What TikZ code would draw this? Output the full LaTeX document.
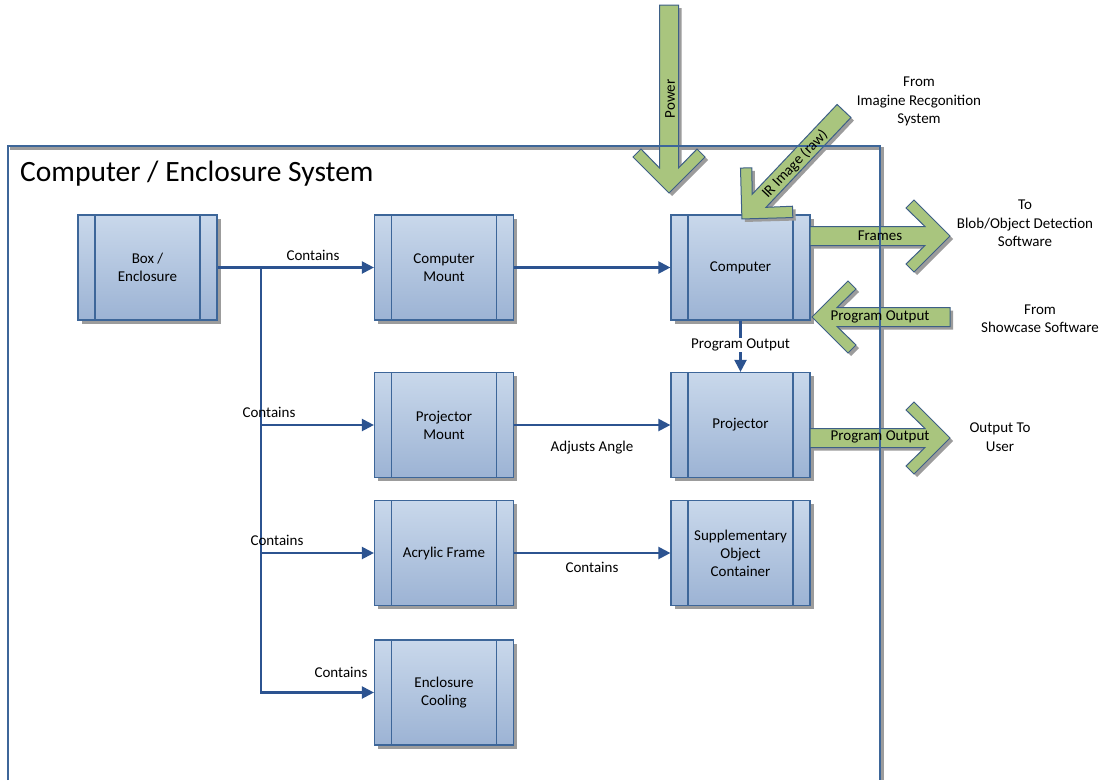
\documentclass[tikz,border=0pt]{standalone}
\usepackage{fontspec}
\setmainfont{Carlito}
\usetikzlibrary{arrows.meta}

\definecolor{boxtop}{HTML}{C9D8EB}
\definecolor{boxbot}{HTML}{9CB3D4}
\definecolor{boxline}{HTML}{3D6699}
\definecolor{connblue}{HTML}{2C5390}
\definecolor{shadowgray}{HTML}{9C9C9C}
\definecolor{arrowgreen}{HTML}{A9C57E}
\definecolor{arrowline}{HTML}{3D5F86}

% outline of a thick block arrow with a chevron head, tail at origin, pointing along +x
\newcommand\arrowoutline[1]{(0,9.5) -- (#1-25,9.5) -- (#1-44,28) -- (#1-36,36) -- (#1,0)
  -- (#1-36,-36) -- (#1-44,-28) -- (#1-25,-9.5) -- (0,-9.5) -- cycle}
% #1,#2 tail position, #3 direction angle, #4 length
\newcommand\flowarrow[4]{%
  \fill[shadowgray, shift={(#1+3,#2+3)}, rotate=#3] \arrowoutline{#4};
  \filldraw[fill=arrowgreen, draw=arrowline, line width=1pt, line join=miter,
    shift={(#1,#2)}, rotate=#3] \arrowoutline{#4};}

\tikzset{
  procbox/.style={rectangle, minimum width=139pt, minimum height=105pt,
    draw=boxline, line width=1.2pt, top color=boxtop, bottom color=boxbot,
    align=center, inner sep=0pt, font=\fontsize{15}{18}\selectfont,
    preaction={fill=shadowgray, transform canvas={shift={(3.5pt,-3.5pt)}}},
    path picture={
      \draw[boxline, line width=1.2pt]
        ([xshift=17pt]path picture bounding box.north west) --
        ([xshift=17pt]path picture bounding box.south west)
        ([xshift=-17pt]path picture bounding box.north east) --
        ([xshift=-17pt]path picture bounding box.south east);}},
  conn/.style={draw=connblue, line width=2.2pt,
    -{Triangle[length=12pt,width=12pt]}},
  plain/.style={draw=connblue, line width=2.2pt},
  lbl/.style={font=\fontsize{15}{18}\selectfont, inner sep=1pt, align=center},
  outer/.style={font=\fontsize{15}{18.5}\selectfont, align=center, inner sep=0pt}
}

\begin{document}
\begin{tikzpicture}[x=1pt, y=-1pt]
\useasboundingbox (0,0) rectangle (1105,780);
\fill[white] (0,0) rectangle (1105,780);

% enclosure frame shadow
\draw[shadowgray, line width=3pt] (10,148) -- (882,148) -- (882,780);

% process boxes
\node[procbox] (box)     at (147.5,267.5) {Box /\\Enclosure};
\node[procbox] (cmount)  at (444,267.5)   {Computer\\Mount};
\node[procbox] (comp)    at (740.5,267.5) {Computer};
\node[procbox] (pmount)  at (444,425)     {Projector\\Mount};
\node[procbox] (proj)    at (740.5,425)   {Projector};
\node[procbox] (acrylic) at (444,553)     {Acrylic Frame};
\node[procbox] (supp)    at (740.5,553)   {Supplementary\\Object\\Container};
\node[procbox] (cooling) at (444,692.5)   {Enclosure\\Cooling};

% containment tree
\coordinate (split) at (261,267.5);
\coordinate (splitend) at (261,692.5);
\draw[conn] (box.east) -- (cmount.west);
\draw[plain] (split) -- (splitend);
\draw[conn] (split) |- (pmount.west);
\draw[conn] (split) |- (acrylic.west);
\draw[conn] (split) |- (cooling.west);
\node[lbl] (l1) at (313,255) {Contains};
\node[lbl] (l2) at (269,412) {Contains};
\node[lbl] (l3) at (277,540) {Contains};
\node[lbl] (l4) at (341,672) {Contains};

% links between columns
\draw[conn] (cmount.east) -- (comp.west);
\draw[conn] (pmount.east) -- (proj.west);
\draw[conn] (acrylic.east) -- (supp.west);
\node[lbl] (l5) at (592,448) {Adjusts Angle};
\node[lbl] (l6) at (592,567) {Contains};
\draw[conn] (comp.south) -- (proj.north)
  node[lbl, pos=0.47, fill=white] (l7) {Program Output};

% block arrows
\flowarrow{669}{5}{-90}{188}
\flowarrow{844}{111}{-133.4}{148.6}
\flowarrow{810}{236}{0}{140}
\flowarrow{950}{317}{180}{138}
\flowarrow{810}{438}{0}{140}

% enclosure frame
\draw[boxline, line width=1.3pt] (8,780) -- (8,146) -- (880,146) -- (880,780);
\node[anchor=base west, font=\fontsize{29.5}{34}\selectfont, inner sep=0pt]
  (title) at (20,181) {Computer / Enclosure System};

% texts on the block arrows
\node[lbl, rotate=90] (tpower) at (670,99) {Power};
\node[lbl, rotate=46.6, inner sep=0pt] (tir) at (795,164) {IR Image (raw)};
\node[lbl] (tframes) at (880,236) {Frames};
\node[lbl] (tpin) at (880,317) {Program Output};
\node[lbl] (tpout) at (880,437) {Program Output};

% external endpoints
\node[outer] (src) at (919,101.5) {From\\Imagine Recgonition\\System};
\node[outer] (blob) at (1025,223.5) {To\\Blob/Object Detection\\Software};
\node[outer] (show) at (1040,318.5) {From\\Showcase Software};
\node[outer] (user) at (1000,437) {Output To\\User};
\end{tikzpicture}
\end{document}
